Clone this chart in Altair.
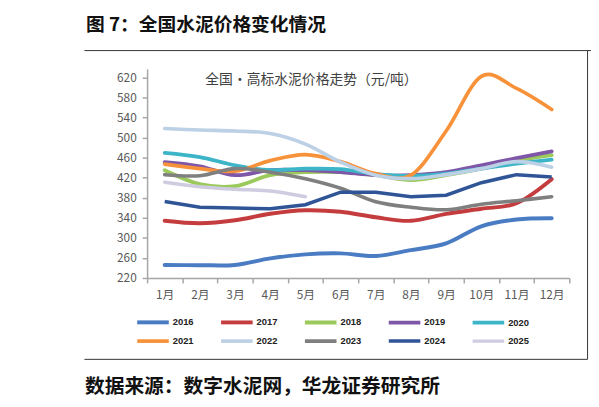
import altair as alt
import pandas as pd

months = ["1月", "2月", "3月", "4月", "5月", "6月", "7月", "8月", "9月", "10月", "11月", "12月"]
years = ["2016", "2017", "2018", "2019", "2020", "2021", "2022", "2023", "2024", "2025"]

v2016 = [246, 245.5, 246, 259, 267, 269, 264, 275.6, 289, 323, 336.5, 339]
v2017 = [334, 329, 335, 348, 355, 352, 341, 334, 347.7, 358, 369, 417]
v2018 = [434.7, 407, 403, 425, 431, 431, 425, 415, 425, 438, 454, 465]
v2019 = [451, 442.6, 425, 435, 435, 431, 425, 425, 431, 444.5, 459, 472.6]
v2020 = [469.5, 461, 444.5, 435, 438, 437, 427, 423.5, 428, 438, 448, 456]
v2021 = [447, 438, 433, 454, 466, 452, 428, 425, 513, 622, 598, 556]
v2022 = [518, 515, 513, 508, 487, 451, 425, 418, 426, 438, 452, 441]
v2023 = [426, 424, 438, 431, 418, 399, 372, 361, 356, 367, 374, 382]
v2024 = [372.5, 361, 359.5, 358, 366, 391, 391, 382, 385, 410, 426, 421.5]
v2025 = [411, 402, 397, 393.5, 382]

series = [v2016, v2017, v2018, v2019, v2020, v2021, v2022, v2023, v2024, v2025]
colors = ["#4A7CC4", "#C43C3E", "#9BC95B", "#7E57A8", "#3DB5C9",
          "#F7923A", "#BCD0E6", "#7F7F7F", "#2F5597", "#CFCBE0"]
widths = [4, 3.5, 3, 3, 3.5, 3.5, 2, 2, 2, 2]

rows = []
for y, vals in zip(years, series):
    for m, v in zip(months, vals):
        rows.append({"month": m, "year": y, "price": v})
df = pd.DataFrame(rows)

# page frame extents (page pixels): drawn as axis domain lines
frame_px = [85, 599]
frame_py = [48, 361]
frame_df = pd.DataFrame({"px": frame_px, "py": frame_py})

title_text = "图 7：全国水泥价格变化情况"
inner_title = "全国•高标水泥价格走势（元/吨）"
source_text = "数据来源：数字水泥网，华龙证券研究所"

FONT = "Noto Sans CJK SC"

x_enc = alt.X("month:N", sort=months, title=None,
              scale=alt.Scale(type="band", paddingInner=0, paddingOuter=0),
              axis=alt.Axis(tickBand="extent", labelAngle=0, labelFont=FONT,
                            labelFontSize=12, labelColor="#595959",
                            domainColor="#a6a6a6", domainWidth=1.5,
                            tickColor="#a6a6a6", tickWidth=1.5, tickSize=5,
                            labelPadding=7, grid=False))
y_enc = alt.Y("price:Q", title=None,
              scale=alt.Scale(domain=[220, 637], nice=False, zero=False),
              axis=alt.Axis(values=list(range(220, 621, 40)), labelFont=FONT,
                            labelFontSize=12, labelColor="#595959",
                            domainColor="#a6a6a6", domainWidth=1.5,
                            tickColor="#a6a6a6", tickWidth=1.5, tickSize=5,
                            labelPadding=6, grid=False))
color_enc = alt.Color("year:N", title=None,
                      scale=alt.Scale(domain=years, range=colors),
                      legend=alt.Legend(orient="none", legendX=-4, legendY=247,
                                        columns=5, symbolType="M-2,0H2",
                                        symbolSize=256, symbolStrokeWidth=3,
                                        labelFont="Liberation Sans",
                                        labelFontWeight="bold", labelFontSize=9.5,
                                        labelColor="#222222", labelOffset=10,
                                        columnPadding=19, rowPadding=1,
                                        direction="horizontal"))
sw_enc = alt.StrokeWidth("year:N", scale=alt.Scale(domain=years, range=widths),
                         legend=None)

base = alt.Chart(df)
smooth = base.transform_filter(alt.datum.year != "2024").mark_line(
    interpolate="cardinal", strokeCap="round"
).encode(x=x_enc, y=y_enc, color=color_enc, strokeWidth=sw_enc)
straight = base.transform_filter(alt.datum.year == "2024").mark_line(
    interpolate="linear"
).encode(x=x_enc, y=y_enc, color=color_enc, strokeWidth=sw_enc)
lines = alt.layer(smooth, straight)


def frame_axis(orient, offset):
    return alt.Axis(orient=orient, offset=offset, ticks=False, labels=False,
                    grid=False, title=None, domainColor="#333333", domainWidth=1)


fbase = alt.Chart(frame_df).mark_point(opacity=0, size=1)
# top rule: page x 85..599 at page y 48 (view origin at page 149, 67)
frame_top = fbase.encode(
    x=alt.X("px:Q", scale=alt.Scale(domain=[85, 599], range=[-64, 450], nice=False, zero=False),
            axis=frame_axis("top", 19)))
# bottom rule: page x 85..595 at page y 361
frame_bottom = fbase.encode(
    x=alt.X("px:Q", scale=alt.Scale(domain=[85, 599], range=[-64, 446], nice=False, zero=False),
            axis=frame_axis("bottom", 82)))
# right rule: page y 48..361 at page x 595
frame_right = fbase.encode(
    y=alt.Y("py:Q", scale=alt.Scale(domain=[48, 361], range=[-19, 294], nice=False, zero=False),
            axis=frame_axis("right", 18)))

one = pd.DataFrame({"a": [0]})
deco = alt.Chart(one)
title_mark = deco.mark_text(text=title_text, font=FONT, fontSize=19,
                            fontWeight="bold", align="left", baseline="middle",
                            color="#111111").encode(x=alt.value(-62), y=alt.value(-44))
inner_mark = deco.mark_text(text=inner_title, font=FONT, fontSize=14,
                            align="left", baseline="middle",
                            color="#404040").encode(x=alt.value(59), y=alt.value(11))
source_mark = deco.mark_text(text=source_text, font=FONT, fontSize=20,
                             fontWeight="bold", align="left", baseline="middle",
                             color="#111111").encode(x=alt.value(-63), y=alt.value(323))

chart = alt.layer(lines, frame_top, frame_bottom, frame_right,
                  title_mark, inner_mark, source_mark).resolve_scale(
    x="independent", y="independent"
).properties(
    width=428, height=212,
    autosize=alt.AutoSizeParams(type="none"),
    padding={"left": 141, "top": 59, "right": 22, "bottom": 119},
    background="white",
).configure_view(stroke=None)

chart.save("out.html", embed_options={"renderer": "svg", "actions": False})
